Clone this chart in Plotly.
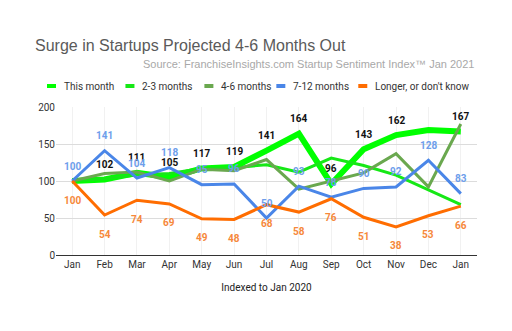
import plotly.graph_objects as go

months = ["Jan", "Feb", "Mar", "Apr", "May", "Jun", "Jul", "Aug", "Sep", "Oct", "Nov", "Dec", "Jan"]
x_idx = list(range(len(months)))

this_month = [100, 102, 111, 105, 117, 119, 141, 164, 96, 143, 162, 169, 167]
this_month_labels = [None, 102, 111, 105, 117, 119, 141, 164, 96, 143, 162, None, 167]
m2_3 = [100, 103, 108, 110, 117, 118, 122, 112, 131, 121, 108, 88, 68]
m4_6 = [100, 110, 112, 100, 116, 114, 129, 89, 100, 111, 137, 92, 177]
m7_12 = [100, 141, 104, 118, 95, 96, 50, 93, 78, 90, 92, 128, 83]
longer = [100, 54, 74, 69, 49, 48, 68, 58, 76, 51, 38, 53, 66]

series_names = ["This month", "2-3 months", "4-6 months", "7-12 months", "Longer, or don't know"]
series_values = [this_month, m2_3, m4_6, m7_12, longer]
series_colors = ["#00ff00", "#16e816", "#6aa84f", "#4a86e8", "#ff6d01"]
series_widths = [6, 3, 3, 3, 3]

title_text = "Surge in Startups Projected 4-6 Months Out"
subtitle_text = "Source: FranchiseInsights.com Startup Sentiment Index\u2122 Jan 2021"
x_title = "Indexed to Jan 2020"

FONT = "Roboto, Arial, sans-serif"
TFONT = "Arial, Liberation Sans, sans-serif"

# layout geometry (px)
W, H = 512, 331
L, R, T, B = 55.5, 35.2, 107, 76
pw, ph = W - L - R, H - T - B

def px_x(px):
    return (px - L) / pw

def px_y(py):
    return (H - B - py) / ph

fig = go.Figure()
for name, vals, col, w in zip(series_names, series_values, series_colors, series_widths):
    fig.add_trace(go.Scatter(x=x_idx, y=vals, mode="lines", name=name,
                             line=dict(color=col, width=w), showlegend=False,
                             cliponaxis=False))

annotations = []
label_sets = [
    (this_month_labels, this_month, "#111111", 15),
    (m7_12, m7_12, "#6d9eeb", 15),
    (longer, longer, "#f6883a", -19),
]
for labels, vals, col, shift in label_sets:
    for xi, lab, v in zip(x_idx, labels, vals):
        if lab is None:
            continue
        annotations.append(dict(x=xi, y=v, xref="x", yref="y", text=str(lab), showarrow=False,
                                yshift=shift, font=dict(family=FONT, size=10, color=col),
                                ))
# bold data labels
for a in annotations:
    a["text"] = "<b>" + a["text"] + "</b>"

# manual legend (Google-style short dashes)
legend_dash_x = [46.5, 125, 204, 276, 358]
legend_y = 86
shapes = []
for lx, name, col in zip(legend_dash_x, series_names, series_colors):
    shapes.append(dict(type="line", xref="paper", yref="paper",
                       x0=px_x(lx), x1=px_x(lx + 9), y0=px_y(legend_y), y1=px_y(legend_y),
                       line=dict(color=col, width=4)))
    annotations.append(dict(x=px_x(lx + 15), y=px_y(legend_y), xref="paper", yref="paper",
                            xanchor="left", yanchor="middle", showarrow=False, text=name,
                            font=dict(family=FONT, size=10, color="#333333")))

annotations.append(dict(x=px_x(476), y=px_y(64), xref="paper", yref="paper", xanchor="right",
                        yanchor="middle", showarrow=False, text=subtitle_text,
                        font=dict(family=TFONT, size=11, color="#a8a8a8")))

fig.update_layout(
    width=W, height=H,
    margin=dict(l=L, r=R, t=T, b=B),
    paper_bgcolor="white", plot_bgcolor="white",
    title=dict(text=title_text, x=35 / W, xanchor="left", y=(H - 45) / H, yanchor="middle",
               font=dict(family=TFONT, size=16, color="#5a5a5a")),
    annotations=annotations,
    shapes=shapes,
    showlegend=False,
)
fig.update_xaxes(range=[-0.5, 12.5], tickvals=x_idx, ticktext=months, showgrid=True,
                 gridcolor="#f1f1f1", zeroline=False, showline=True, linecolor="#333333",
                 linewidth=1, ticks="", tickfont=dict(family=FONT, size=10, color="#333333"),
                 title=dict(text=x_title, font=dict(family=FONT, size=10, color="#222222"),
                            standoff=14))
fig.update_yaxes(range=[0, 200], tickvals=[0, 50, 100, 150, 200], showgrid=True,
                 gridcolor="#dcdcdc", zeroline=False, ticks="",
                 tickfont=dict(family=FONT, size=10, color="#333333"))

fig.write_html("out.html")
